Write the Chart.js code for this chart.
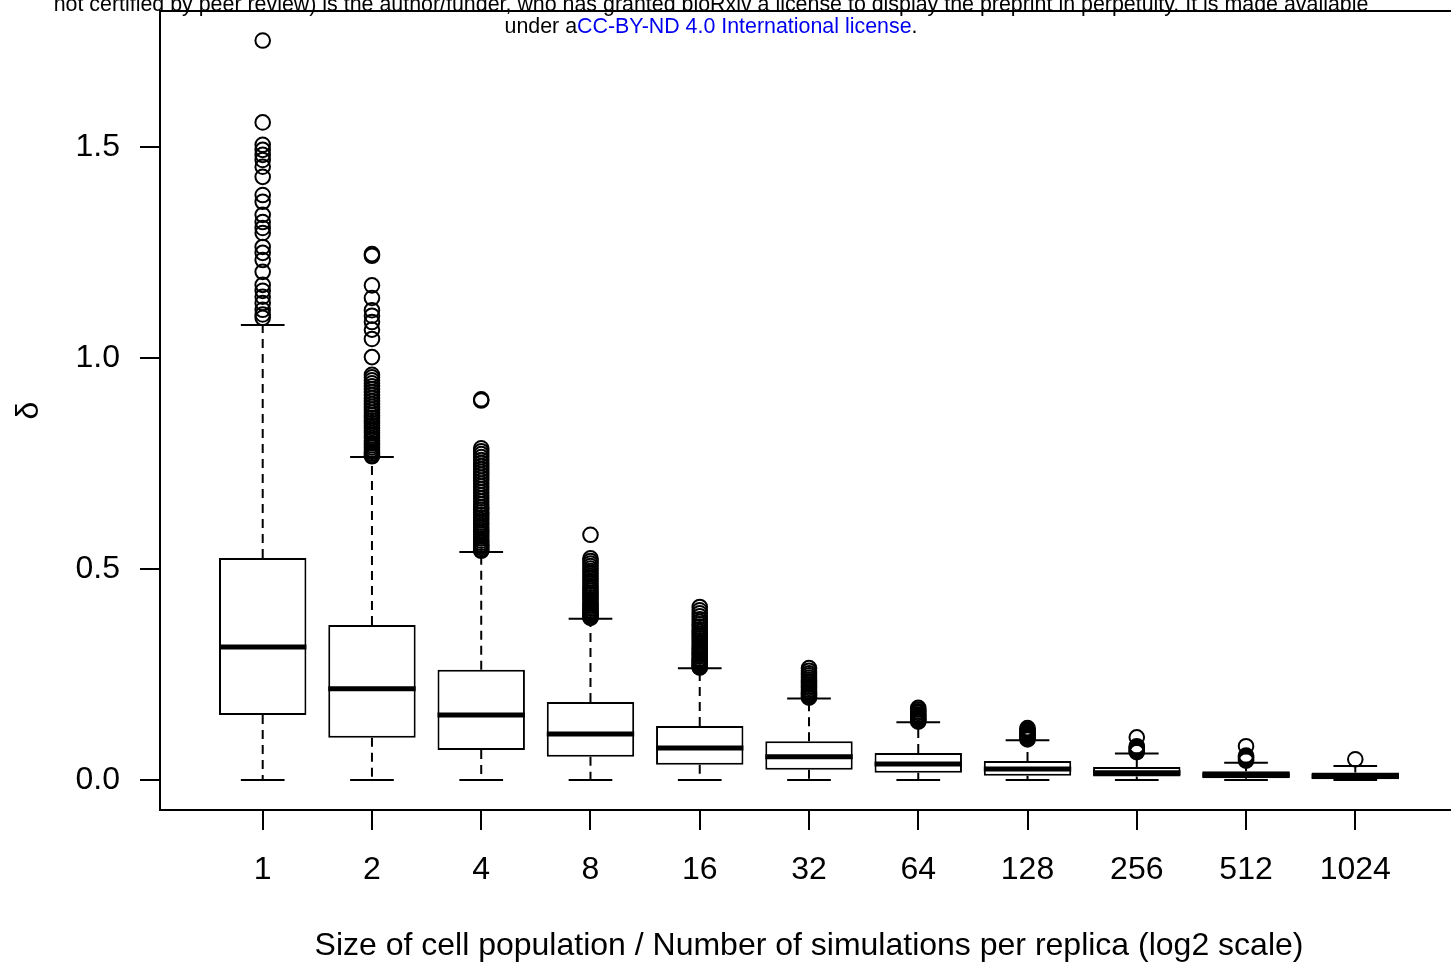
<!DOCTYPE html>
<html>
<head>
<meta charset="utf-8">
<script src="https://cdn.jsdelivr.net/npm/chart.js@4/dist/chart.umd.min.js"></script>
<style>
  html, body { margin:0; padding:0; overflow:hidden; background:#fff; width:1451px; height:963px; }
  #wrap { position:absolute; left:0; top:0; width:1470px; height:963px; }
  #hdr { position:absolute; left:0; top:-7px; width:1422px; text-align:center; font-family:'Liberation Sans', Arial, Helvetica, sans-serif; font-size:21.4px; line-height:22px; color:#000; z-index:2; white-space:nowrap; }
  #hdr a { color:#0000ee; text-decoration:none; }
</style>
</head>
<body>
<div id="hdr">not certified by peer review) is the author/funder, who has granted bioRxiv a license to display the preprint in perpetuity. It is made available<br>under a<a>CC-BY-ND 4.0 International license</a>.</div>
<div id="wrap"><canvas id="c" width="1470" height="963"></canvas></div>
<script>
// ---- data ----
const categories = ['1','2','4','8','16','32','64','128','256','512','1024'];
const whiskerLow  = [0, 0, 0, 0, 0, 0, 0, 0, 0, 0, 0];
const q1          = [0.154, 0.100, 0.071, 0.055, 0.036, 0.024, 0.017, 0.010, 0.008, 0.004, 0.002];
const medians     = [0.315, 0.216, 0.154, 0.109, 0.076, 0.055, 0.038, 0.026, 0.017, 0.012, 0.009];
const q3          = [0.526, 0.367, 0.261, 0.185, 0.128, 0.092, 0.064, 0.045, 0.031, 0.021, 0.018];
const whiskerHigh = [1.078, 0.765, 0.540, 0.382, 0.265, 0.193, 0.137, 0.094, 0.063, 0.041, 0.033];
const outliers = [
  [1.752, 1.558, 1.505, 1.493, 1.481, 1.469, 1.453, 1.429, 1.386, 1.370, 1.339, 1.322, 1.308, 1.296, 1.263, 1.249, 1.232, 1.204, 1.173, 1.159, 1.145, 1.130, 1.114, 1.103, 1.095],
  [1.246, 1.242, 1.172, 1.142, 1.113, 1.100, 1.085, 1.067, 1.045, 1.002, 0.960, 0.954, 0.947, 0.940, 0.933, 0.926, 0.919, 0.912, 0.905, 0.898, 0.891, 0.884, 0.877, 0.870, 0.864, 0.858, 0.852, 0.846, 0.840, 0.834, 0.828, 0.822, 0.816, 0.810, 0.804, 0.798, 0.793, 0.788, 0.783, 0.778, 0.774, 0.770, 0.767],
  [0.902, 0.899, 0.786, 0.779, 0.772, 0.765, 0.758, 0.751, 0.744, 0.737, 0.730, 0.723, 0.716, 0.709, 0.702, 0.695, 0.688, 0.681, 0.674, 0.667, 0.660, 0.653, 0.646, 0.640, 0.634, 0.628, 0.622, 0.616, 0.610, 0.604, 0.598, 0.592, 0.587, 0.582, 0.577, 0.572, 0.567, 0.562, 0.558, 0.554, 0.550, 0.546, 0.543],
  [0.581, 0.525, 0.519, 0.513, 0.507, 0.501, 0.495, 0.489, 0.483, 0.477, 0.471, 0.465, 0.459, 0.453, 0.448, 0.443, 0.438, 0.433, 0.428, 0.423, 0.418, 0.414, 0.410, 0.406, 0.402, 0.398, 0.395, 0.392, 0.389, 0.386, 0.384],
  [0.410, 0.402, 0.395, 0.388, 0.381, 0.375, 0.369, 0.363, 0.357, 0.351, 0.346, 0.341, 0.336, 0.331, 0.326, 0.321, 0.316, 0.312, 0.308, 0.304, 0.300, 0.296, 0.292, 0.288, 0.285, 0.282, 0.279, 0.276, 0.273, 0.270, 0.268, 0.266],
  [0.265, 0.259, 0.253, 0.248, 0.243, 0.238, 0.234, 0.230, 0.226, 0.222, 0.218, 0.214, 0.210, 0.207, 0.204, 0.201, 0.198, 0.195],
  [0.171, 0.167, 0.163, 0.159, 0.155, 0.152, 0.149, 0.146, 0.143, 0.140, 0.138],
  [0.123, 0.120, 0.117, 0.114, 0.111, 0.108, 0.105, 0.102, 0.099, 0.096],
  [0.101, 0.080, 0.077, 0.074, 0.071, 0.068, 0.066],
  [0.080, 0.058, 0.055, 0.052, 0.049, 0.046],
  [0.049]
];
const yTickValues = [0, 0.5, 1.0, 1.5];
const xTitle = 'Size of cell population / Number of simulations per replica (log2 scale)';
const yTitle = 'δ';

// ---- build datasets ----
const BOX_HALF = 0.4, CAP_HALF = 0.2;
const boxData = categories.map((c, i) => ({ x: i, y: [q1[i], q3[i]] }));
const medianData = [], capData = [], whiskerData = [], outlierData = [];
categories.forEach((c, i) => {
  medianData.push({ x: i - BOX_HALF, y: medians[i] }, { x: i + BOX_HALF, y: medians[i] }, { x: i, y: null });
  capData.push({ x: i - CAP_HALF, y: whiskerHigh[i] }, { x: i + CAP_HALF, y: whiskerHigh[i] }, { x: i, y: null });
  capData.push({ x: i - CAP_HALF, y: whiskerLow[i] }, { x: i + CAP_HALF, y: whiskerLow[i] }, { x: i, y: null });
  whiskerData.push({ x: i, y: q3[i] }, { x: i, y: whiskerHigh[i] }, { x: i, y: null });
  whiskerData.push({ x: i, y: q1[i] }, { x: i, y: whiskerLow[i] }, { x: i, y: null });
  outliers[i].forEach(v => outlierData.push({ x: i, y: v }));
});

const FONT = "'Liberation Sans', Arial, Helvetica, sans-serif";

const framePlugin = {
  id: 'frame',
  afterDatasetsDraw(chart) {
    const { ctx, chartArea: a } = chart;
    ctx.save();
    ctx.strokeStyle = '#000';
    ctx.lineWidth = 2;
    ctx.strokeRect(a.left, a.top, a.right - a.left, a.bottom - a.top);
    ctx.restore();
  }
};

const zeroPad = s => { s.paddingTop = 0; s.paddingBottom = 0; s.paddingLeft = 0; s.paddingRight = 0; };

new Chart(document.getElementById('c'), {
  data: {
    datasets: [
      { type: 'scatter', data: outlierData, order: 0, pointStyle: 'circle', pointRadius: 7.3, pointHoverRadius: 7.3,
        pointBorderWidth: 2, pointBorderColor: '#000', pointBackgroundColor: 'rgba(0,0,0,0)', showLine: false },
      { type: 'line', data: medianData, order: 1, borderColor: '#000', borderWidth: 5, pointRadius: 0, spanGaps: false, borderCapStyle: 'butt', tension: 0 },
      { type: 'bar', data: boxData, order: 2, backgroundColor: '#fff', borderColor: '#000', borderWidth: 2, borderSkipped: false,
        barPercentage: 1.0, categoryPercentage: 0.8 },
      { type: 'line', data: capData, order: 3, borderColor: '#000', borderWidth: 2, pointRadius: 0, spanGaps: false, tension: 0 },
      { type: 'line', data: whiskerData, order: 4, borderColor: '#000', borderWidth: 2, borderDash: [9, 6], pointRadius: 0, spanGaps: false, tension: 0 }
    ]
  },
  options: {
    responsive: false,
    animation: false,
    devicePixelRatio: 1,
    layout: { padding: { left: 0, top: 11, right: 12, bottom: 0 } },
    plugins: { legend: { display: false }, tooltip: { enabled: false } },
    scales: {
      x: {
        type: 'linear', position: 'bottom', min: -0.94, max: 10.94, offset: false,
        afterBuildTicks: s => { s.ticks = categories.map((c, i) => ({ value: i })); },
        afterFit: s => { s.height = 153; zeroPad(s); },
        ticks: { callback: (v) => categories[v], color: '#000', font: { family: FONT, size: 32 }, padding: 21, maxRotation: 0, autoSkip: false },
        grid: { offset: false, drawOnChartArea: false, drawTicks: true, tickLength: 20, color: '#000', lineWidth: 2 },
        border: { display: true, color: '#000', width: 2 },
        title: { display: true, text: xTitle, color: '#000', font: { family: FONT, size: 32, lineHeight: 1.05 }, padding: { top: 0, bottom: 0 } }
      },
      y: {
        type: 'linear', position: 'left', min: -0.0711, max: 1.822,
        afterBuildTicks: s => { s.ticks = yTickValues.map(v => ({ value: v })); },
        afterFit: s => { s.width = 160; zeroPad(s); },
        ticks: { callback: v => v.toFixed(1), color: '#000', font: { family: FONT, size: 32 }, padding: 20 },
        grid: { drawOnChartArea: false, drawTicks: true, tickLength: 20, color: '#000', lineWidth: 2 },
        border: { display: true, color: '#000', width: 2 },
        title: { display: true, text: yTitle, color: '#000', font: { family: FONT, size: 32 }, padding: { top: 10, bottom: 0 } }
      }
    }
  },
  plugins: [framePlugin]
});
</script>
</body>
</html>
